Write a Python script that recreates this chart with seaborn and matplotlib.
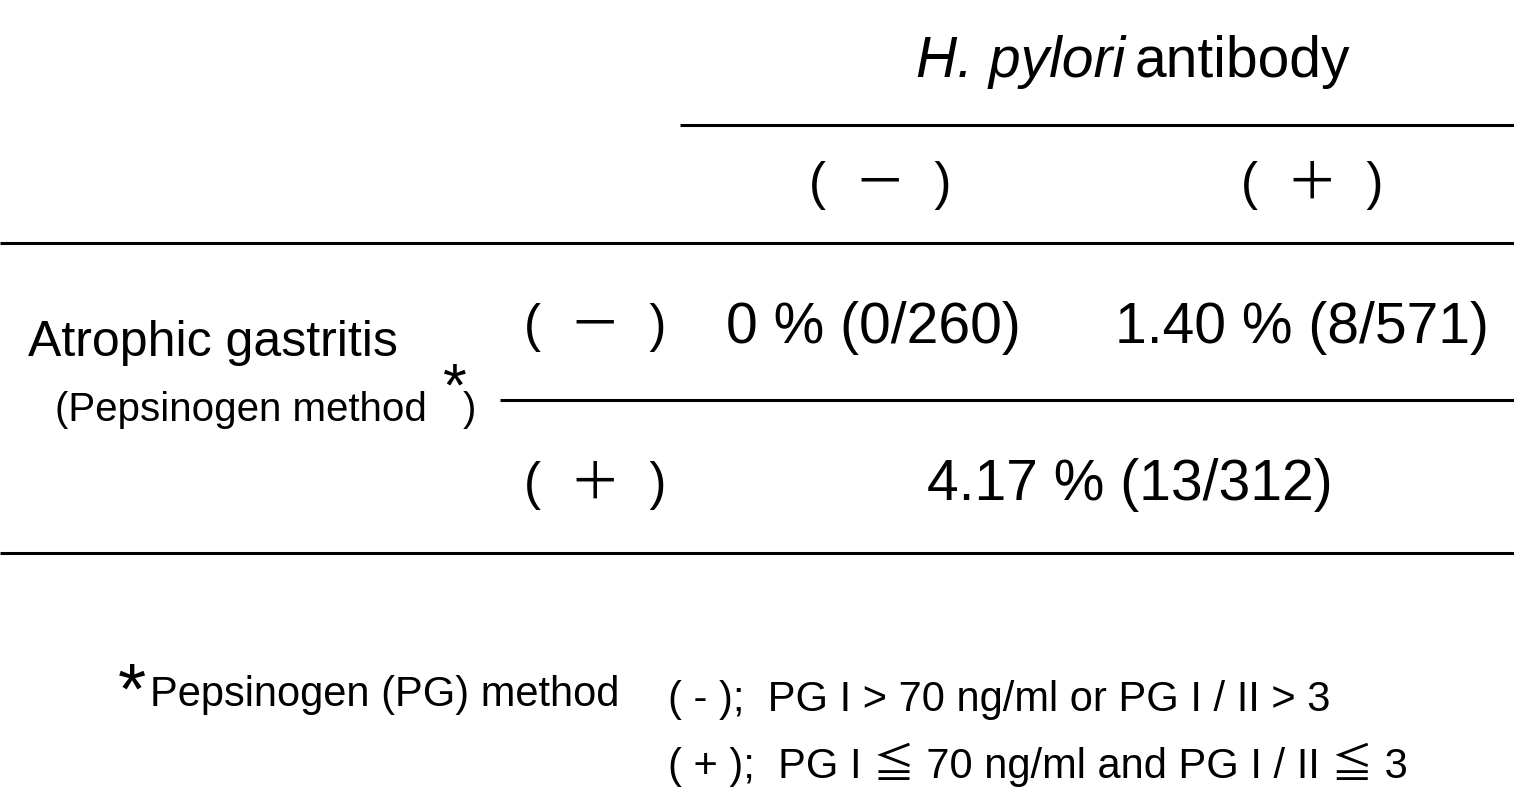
import matplotlib
matplotlib.use("Agg")
import matplotlib.pyplot as plt
import seaborn as sns

# table content
col_header = ["H. pylori", "antibody"]
col_labels = ["(  \uff0d  )", "(  \uff0b  )"]
row_labels = ["(  \uff0d  )", "(  \uff0b  )"]
cells_neg = ["0 % (0/260)", "1.40 % (8/571)"]
cell_pos = "4.17 % (13/312)"
row_title = "Atrophic gastritis"
row_sub = "(Pepsinogen method"
foot_title = "Pepsinogen (PG) method"
foot_lines = ["( - );  PG I > 70 ng/ml or PG I / II > 3",
              "( + );  PG I \u2266 70 ng/ml and PG I / II \u2266 3"]

sns.set_theme(style="white")
plt.rcParams["font.family"] = ["Liberation Sans", "Noto Sans CJK JP", "DejaVu Sans"]
plt.rcParams["text.color"] = "black"

fig = plt.figure(figsize=(15.14, 8), dpi=100)
ax = fig.add_axes([0, 0, 1, 1])
ax.set_xlim(0, 1514)
ax.set_ylim(800, 0)
ax.axis("off")

# rules
ax.hlines([125], 680, 1514, color="black", lw=2.2)
ax.hlines([243, 553], 0, 1514, color="black", lw=2.2)
ax.hlines([400], 500, 1514, color="black", lw=2.2)

big = 41
ax.text(1125, 62, col_header[0], fontsize=big, ha="right", va="center", style="italic")
ax.text(1135, 62, col_header[1], fontsize=big, ha="left", va="center")

for x, lab in zip([880, 1312], col_labels):
    ax.text(x, 185, lab, fontsize=big - 4, ha="center", va="center")
for y, lab in zip([328, 485], row_labels):
    ax.text(595, y, lab, fontsize=big - 4, ha="center", va="center")
for x, val in zip([873, 1302], cells_neg):
    ax.text(x, 328, val, fontsize=big, ha="center", va="center")
ax.text(1130, 485, cell_pos, fontsize=big, ha="center", va="center")

ax.text(28, 343, row_title, fontsize=36, ha="left", va="center")
ax.text(55, 410, row_sub, fontsize=29, ha="left", va="center")
ax.text(443, 390, "*", fontsize=44, ha="left", va="center")
ax.text(463, 410, ")", fontsize=29, ha="left", va="center")

ax.text(118, 695, "*", fontsize=52, ha="left", va="center")
ax.text(150, 695, foot_title, fontsize=30, ha="left", va="center")
for y, line in zip([700, 765], foot_lines):
    ax.text(668, y, line, fontsize=30, ha="left", va="center")

fig.savefig("out.png", dpi=100, facecolor="white")
